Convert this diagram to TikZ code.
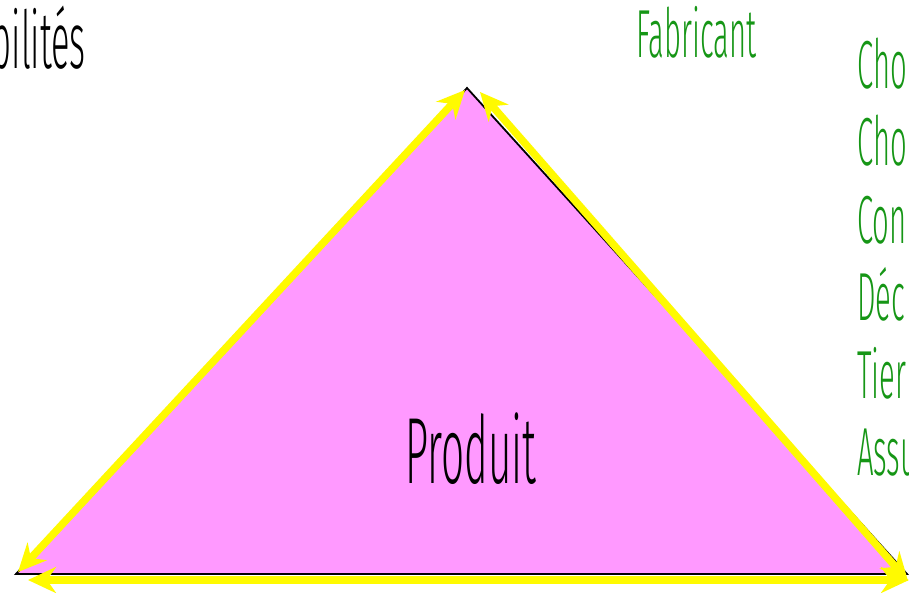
\documentclass[tikz,border=0pt]{standalone}
\usepackage{fontspec}
\newfontfamily\hand{Fira Sans Light}[FakeStretch=0.43]
\usetikzlibrary{arrows.meta}
\definecolor{pinkfill}{RGB}{255,153,255}
\definecolor{arrowyellow}{RGB}{255,250,0}
\definecolor{txtgreen}{RGB}{22,150,22}
\begin{document}
\begin{tikzpicture}[x=1pt,y=-1pt,
  yarrow/.style={draw=arrowyellow,line width=7.5pt,
    {Stealth[length=28pt,width=26pt,fill=arrowyellow]}-{Stealth[length=28pt,width=26pt,fill=arrowyellow]}},
  lbl/.style={inner sep=0pt,anchor=base west,text=txtgreen,font=\hand\fontsize{68}{68}\selectfont},
  blk/.style={inner sep=0pt,text=black}]
\useasboundingbox (0,0) rectangle (909,592);
\clip (0,0) rectangle (909,592);
\fill[white] (0,0) rectangle (909,592);
% triangle vertices
\coordinate (A) at (467,88);
\coordinate (B) at (16,574);
\coordinate (C) at (907,574);
\fill[pinkfill] (A) -- (B) -- (C) -- cycle;
\draw[black,line width=1.8pt,line join=miter] (A) -- (B) -- (C) -- cycle;
% arrow end points
\coordinate (l1) at (465,90);
\coordinate (l2) at (18,572);
\coordinate (r1) at (480,92);
\coordinate (r2) at (908,581);
\coordinate (b1) at (28,580);
\coordinate (b2) at (909,580);
\draw[yarrow] (l1) -- (l2);
\draw[yarrow] (r1) -- (r2);
\draw[yarrow] (b1) -- (b2);
% texts
\node[blk,anchor=base west,font=\hand\fontsize{94}{94}\selectfont] (prod) at (405,483) {Produit};
\node[blk,anchor=base east,font=\hand\fontsize{80}{80}\selectfont] (resp) at (86,68) {bilités};
\node[lbl] (fab) at (636,57) {Fabricant};
\node[lbl] (t1) at (857,88) {Cho};
\node[lbl] (t2) at (857,165) {Cho};
\node[lbl] (t3) at (857,243) {Con};
\node[lbl] (t4) at (857,320) {Déc};
\node[lbl] (t5) at (857,398) {Tier};
\node[lbl] (t6) at (857,475) {Assu};
\end{tikzpicture}
\end{document}
